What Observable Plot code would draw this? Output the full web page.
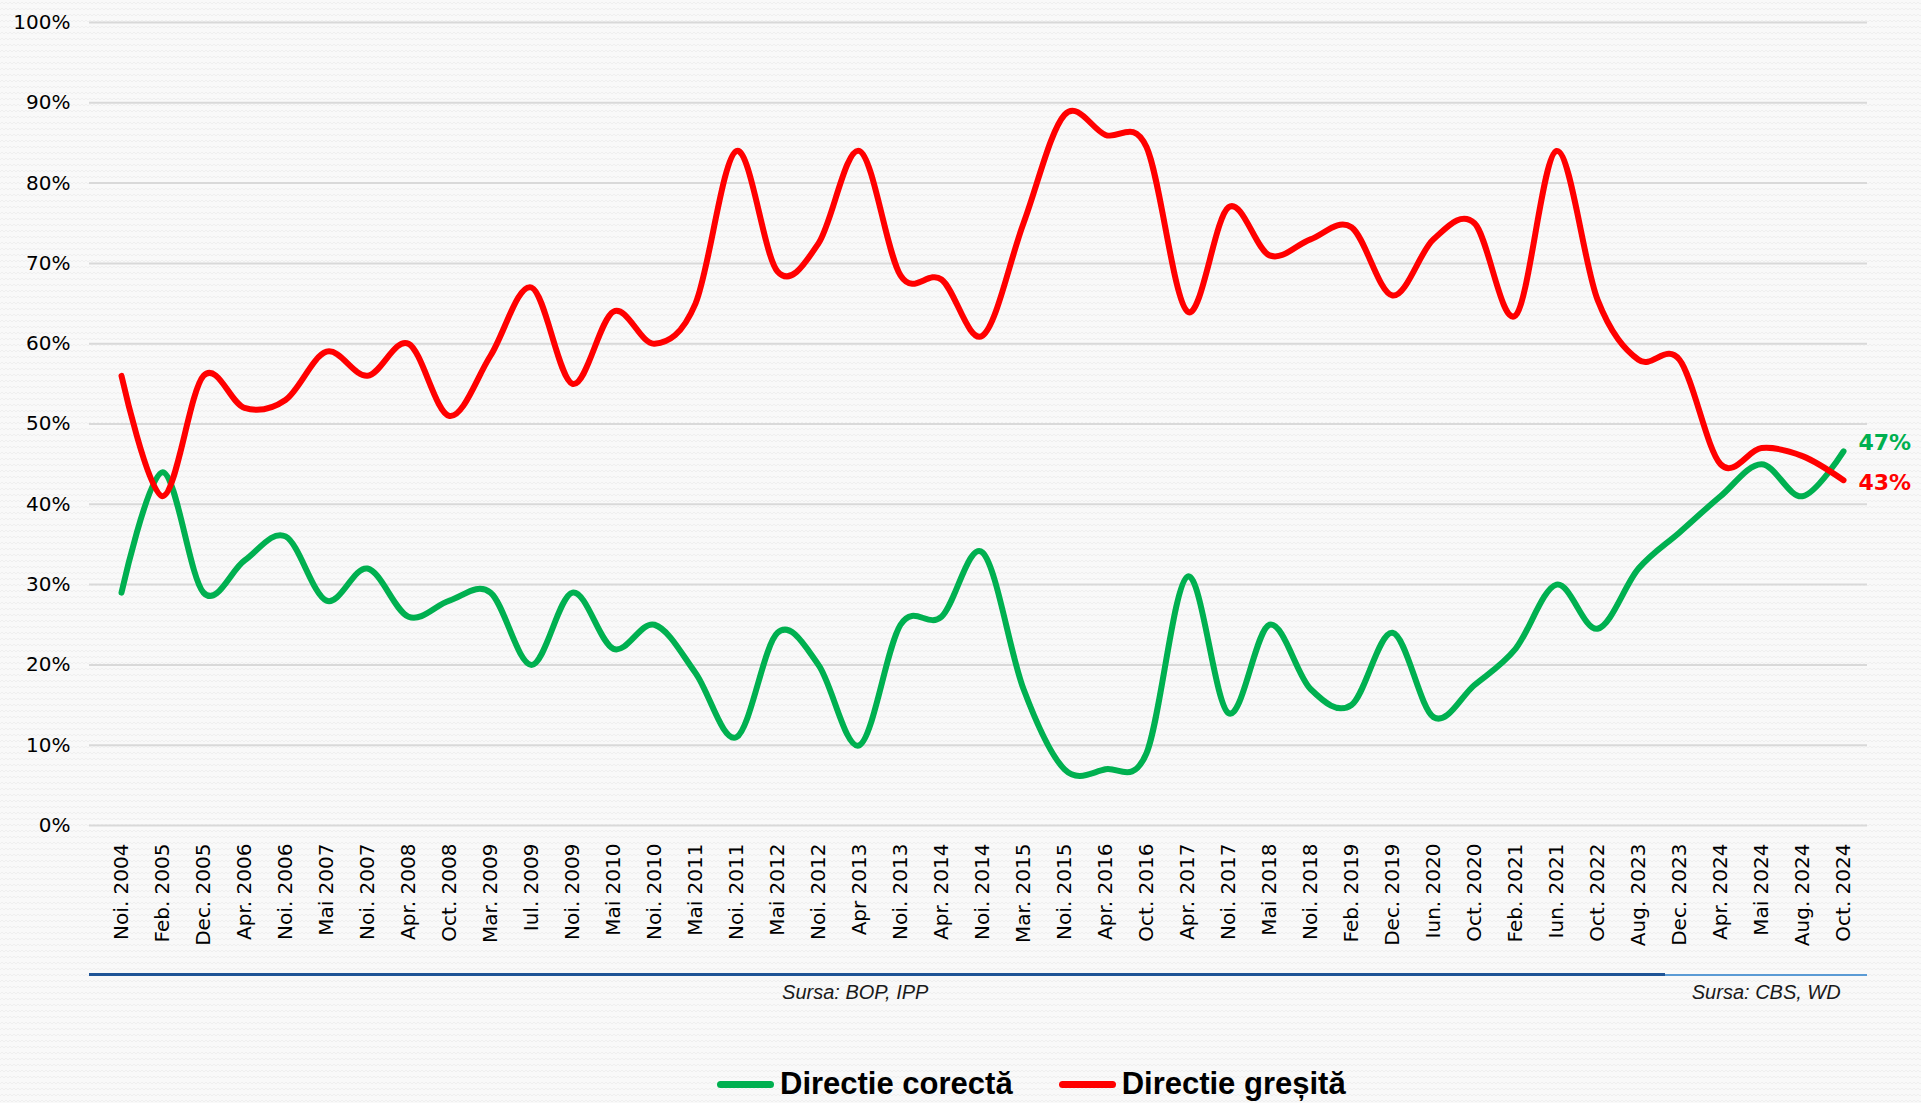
<!DOCTYPE html>
<html><head><meta charset="utf-8">
<script src="https://cdn.jsdelivr.net/npm/d3@7"></script>
<script src="https://cdn.jsdelivr.net/npm/@observablehq/plot@0.6"></script>
<style>
html,body{margin:0;padding:0;}
body{width:1921px;height:1103px;overflow:hidden;position:relative;
  background:#f9f9f9 url("data:image/svg+xml,%3Csvg xmlns='http://www.w3.org/2000/svg' width='8' height='6'%3E%3Cpath d='M0 4 L2 2 L4 4 L6 2 L8 4' fill='none' stroke='%23efefef' stroke-width='1'/%3E%3C/svg%3E") repeat;
  font-family:"DejaVu Sans",sans-serif;}
#chart{position:absolute;left:0;top:0;}
.src{position:absolute;font-family:"Liberation Sans Narrow","Liberation Sans",sans-serif;font-style:italic;font-size:20px;color:#1a1a1a;transform:translateX(-50%);white-space:nowrap;}
.rule{position:absolute;}
#legend{position:absolute;left:717px;top:1066px;display:flex;align-items:center;font-family:"Liberation Sans Narrow","Liberation Sans",sans-serif;font-weight:bold;font-size:31px;color:#000;white-space:nowrap;}
.sw{display:inline-block;width:57px;height:7px;border-radius:4px;margin-right:6px;}
.item{display:flex;align-items:center;}
</style></head><body>
<div id="chart"></div>
<script>
const labels = ["Noi. 2004","Feb. 2005","Dec. 2005","Apr. 2006","Noi. 2006","Mai 2007","Noi. 2007","Apr. 2008","Oct. 2008","Mar. 2009","Iul. 2009","Noi. 2009","Mai 2010","Noi. 2010","Mai 2011","Noi. 2011","Mai 2012","Noi. 2012","Apr 2013","Noi. 2013","Apr. 2014","Noi. 2014","Mar. 2015","Noi. 2015","Apr. 2016","Oct. 2016","Apr. 2017","Noi. 2017","Mai 2018","Noi. 2018","Feb. 2019","Dec. 2019","Iun. 2020","Oct. 2020","Feb. 2021","Iun. 2021","Oct. 2022","Aug. 2023","Dec. 2023","Apr. 2024","Mai 2024","Aug. 2024","Oct. 2024"];
const corecta = [29,44,29,33,36,28,32,26,28,29,20,29,22,25,19,11,24,20,10,25,26,34,17,7,7,9,31,14,25,17,15,24,13.5,17.5,22,30,24.5,32,36.5,41,45,41,46.6];
const gresita = [56,41,56,52,53,59,56,60,51,58.5,67,55,64,60,65,84,69,72.5,84,68.5,68,61,75,88.5,86,84.5,64,77,71,73,74.5,66,73,75,63.5,84,65.5,58,58,45,47,46,43];
const seriesNames = ["Directie corectă","Directie greșită"];
const seriesColors = ["#00b050","#ff0000"];
const sources = ["Sursa: BOP, IPP","Sursa: CBS, WD"];
const sourceColors = ["#1f5597","#5b9bd5"];
const sourceSplit = "Aug. 2023";
const yTicks = d3.range(0, 101, 10);

const data = [];
labels.forEach((l,i)=>{
  data.push({label:l, series:seriesNames[0], value:corecta[i]});
  data.push({label:l, series:seriesNames[1], value:gresita[i]});
});
const lastLabel = labels[labels.length-1];
const lastG = data.filter(d=>d.label===lastLabel && d.series===seriesNames[0]);
const lastR = data.filter(d=>d.label===lastLabel && d.series===seriesNames[1]);

const W=1921, H=960, ML=89, MR=54;
const plot = Plot.plot({
  width: W, height: H,
  marginLeft: ML, marginRight: MR, marginTop: 22, marginBottom: 135,
  style: {background:"transparent", fontFamily:"DejaVu Sans, sans-serif", fontSize:"20px", color:"#000", overflow:"visible"},
  x: {type:"point", domain: labels, range:[116, 1847], padding:0, label:null},
  y: {domain:[0,100], label:null},
  color: {domain: seriesNames, range: seriesColors},
  marks: [
    Plot.ruleY(yTicks, {stroke:"#d9d9d9", strokeWidth:2}),
    Plot.axisY({ticks:yTicks, tickFormat:d=>d+"%", tickSize:0, tickPadding:19, fontSize:20, label:null}),
    Plot.axisX({tickRotate:-90, tickSize:0, tickPadding:18, fontSize:20, label:null}),
    Plot.line(data, {x:"label", y:"value", z:"series", stroke:"series", strokeWidth:6, curve:"cardinal", strokeLinecap:"round", strokeLinejoin:"round"}),
    Plot.text(lastG, {x:"label", y:"value", text:d=>Math.round(d.value)+"%", fill:"series", dx:15, dy:-8, textAnchor:"start", fontWeight:"bold", fontSize:22}),
    Plot.text(lastR, {x:"label", y:"value", text:d=>Math.round(d.value)+"%", fill:"series", dx:15, dy:3, textAnchor:"start", fontWeight:"bold", fontSize:22})
  ]
});
document.getElementById("chart").appendChild(plot);

// source rules and captions, positioned from the x scale
const xs = plot.scale("x");
const idx = labels.indexOf(sourceSplit);
const step = xs.apply(labels[idx+1]) - xs.apply(labels[idx]);
const splitX = xs.apply(labels[idx]) + 0.67*step;
const segs = [[ML, splitX],[splitX, W-MR]];
segs.forEach((s,i)=>{
  const r = document.createElement("div");
  r.className="rule";
  r.style.left = s[0]+"px"; r.style.width=(s[1]-s[0])+"px";
  r.style.top = (i===0?973:974)+"px"; r.style.height=(i===0?3:2)+"px";
  r.style.background = sourceColors[i];
  document.body.appendChild(r);
  const t = document.createElement("div");
  t.className="src"; t.textContent = sources[i];
  t.style.left = ((s[0]+s[1])/2 + (i===0?-22:0))+"px"; t.style.top = "981px";
  document.body.appendChild(t);
});

// legend
const lg = document.createElement("div");
lg.id="legend";
seriesNames.forEach((n,i)=>{
  const it = document.createElement("span"); it.className="item";
  if(i>0) it.style.marginLeft="46px";
  const sw = document.createElement("span"); sw.className="sw"; sw.style.background=seriesColors[i];
  const tx = document.createElement("span"); tx.textContent=n;
  it.appendChild(sw); it.appendChild(tx); lg.appendChild(it);
});
document.body.appendChild(lg);
</script>
</body></html>
